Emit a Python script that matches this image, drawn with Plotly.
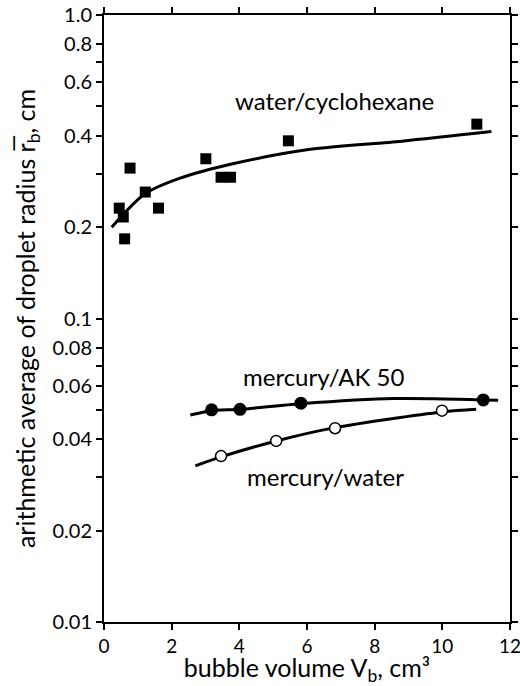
import math
import plotly.graph_objects as go

# water/cyclohexane (squares)
wc_x = [0.45, 0.57, 0.61, 0.77, 1.22, 1.61, 3.01, 3.46, 3.74, 5.45, 11.02]
wc_y = [0.231, 0.216, 0.183, 0.313, 0.261, 0.231, 0.336, 0.292, 0.292, 0.385, 0.437]
wc_fit_x = [0.23, 1.22, 2.25, 3.84, 6.1, 8.8, 11.45]
wc_fit_y = [0.200, 0.258, 0.290, 0.324, 0.361, 0.384, 0.413]

# mercury/AK 50 (filled circles)
ak_x = [3.18, 4.02, 5.82, 11.21]
ak_y = [0.0500, 0.0502, 0.0526, 0.0539]
ak_fit_x = [2.55, 3.18, 4.02, 5.82, 8.58, 11.65]
ak_fit_y = [0.0481, 0.0497, 0.0502, 0.0524, 0.0545, 0.0538]

# mercury/water (open circles)
mw_x = [3.46, 5.09, 6.83, 9.99]
mw_y = [0.0352, 0.0395, 0.0435, 0.0497]
mw_fit_x = [2.7, 3.46, 5.09, 6.83, 9.99, 11.0]
mw_fit_y = [0.0327, 0.0350, 0.0395, 0.0437, 0.0492, 0.0502]

# series labels
label_text = ["water/cyclohexane", "mercury/AK 50", "mercury/water"]
label_x = [6.8, 6.5, 6.56]
label_y = [0.521, 0.0643, 0.0301]

y_tickvals = [0.01, 0.02, 0.03, 0.04, 0.05, 0.06, 0.07, 0.08, 0.1, 0.2, 0.3, 0.4, 0.5, 0.6, 0.7, 0.8, 1.0]
y_ticktext = ["0.01", "0.02", "", "0.04", "", "0.06", "", "0.08", "0.1", "0.2", "", "0.4", "", "0.6", "", "0.8", "1.0"]
x_tickvals = [0, 2, 4, 6, 8, 10, 12]

FONT = "Lato"
fig = go.Figure()

line = dict(color="black", width=3, shape="spline", smoothing=0.8)
fig.add_trace(go.Scatter(x=wc_fit_x, y=wc_fit_y, mode="lines", line=line, hoverinfo="skip"))
fig.add_trace(go.Scatter(x=ak_fit_x, y=ak_fit_y, mode="lines", line=line, hoverinfo="skip"))
fig.add_trace(go.Scatter(x=mw_fit_x, y=mw_fit_y, mode="lines", line=line, hoverinfo="skip"))

fig.add_trace(go.Scatter(x=wc_x, y=wc_y, mode="markers",
                         marker=dict(symbol="square", size=11, color="black")))
fig.add_trace(go.Scatter(x=ak_x, y=ak_y, mode="markers",
                         marker=dict(symbol="circle", size=13, color="black")))
fig.add_trace(go.Scatter(x=mw_x, y=mw_y, mode="markers",
                         marker=dict(symbol="circle", size=11, color="white",
                                     line=dict(color="black", width=1.5))))

for t, x, y in zip(label_text, label_x, label_y):
    fig.add_annotation(x=x, y=math.log10(y), yref="y", xref="x", text=t, showarrow=False,
                       font=dict(family=FONT, size=24, color="black"))

axis_common = dict(showline=True, linecolor="black", linewidth=2, mirror="ticks",
                   ticks="outside", ticklen=6, tickwidth=2, tickcolor="black",
                   showgrid=False, zeroline=False, automargin=False,
                   ticklabeloverflow="allow")

fig.update_layout(
    width=520, height=686,
    margin=dict(l=104, r=10, t=15, b=64),
    paper_bgcolor="white", plot_bgcolor="white",
    showlegend=False,
    xaxis=dict(range=[0, 12], tickvals=x_tickvals,
               tickfont=dict(family=FONT, size=19, color="black"),
               title=dict(text="bubble volume V<sub>b</sub>, cm³", font=dict(family=FONT, size=25, color="black"), standoff=6),
               **axis_common),
    yaxis=dict(type="log", range=[-2, 0], tickvals=y_tickvals, ticktext=y_ticktext,
               tickfont=dict(family=FONT, size=20, color="black"),
               title=dict(text="arithmetic average of droplet radius r\u0305<sub>b</sub>, cm", font=dict(family=FONT, size=25, color="black"), standoff=10),
               **axis_common),
    yaxis2=dict(type="log", range=[-2, 0], overlaying="y", side="right", matches="y",
                tickvals=y_tickvals, showticklabels=False, showline=True, linecolor="black",
                linewidth=2, ticks="outside", ticklen=6, tickwidth=2, tickcolor="black",
                showgrid=False, zeroline=False, automargin=False),
)
# invisible helper so the right-hand axis frame is drawn
fig.add_trace(go.Scatter(x=[None], y=[None], yaxis="y2", showlegend=False, hoverinfo="skip"))

fig.write_html(
    "out.html",
    config={"displayModeBar": False, "responsive": False},
    post_script=("document.documentElement.style.margin='0';"
                 "document.documentElement.style.overflow='hidden';"
                 "document.body.style.margin='0';document.body.style.overflow='hidden';"),
)
